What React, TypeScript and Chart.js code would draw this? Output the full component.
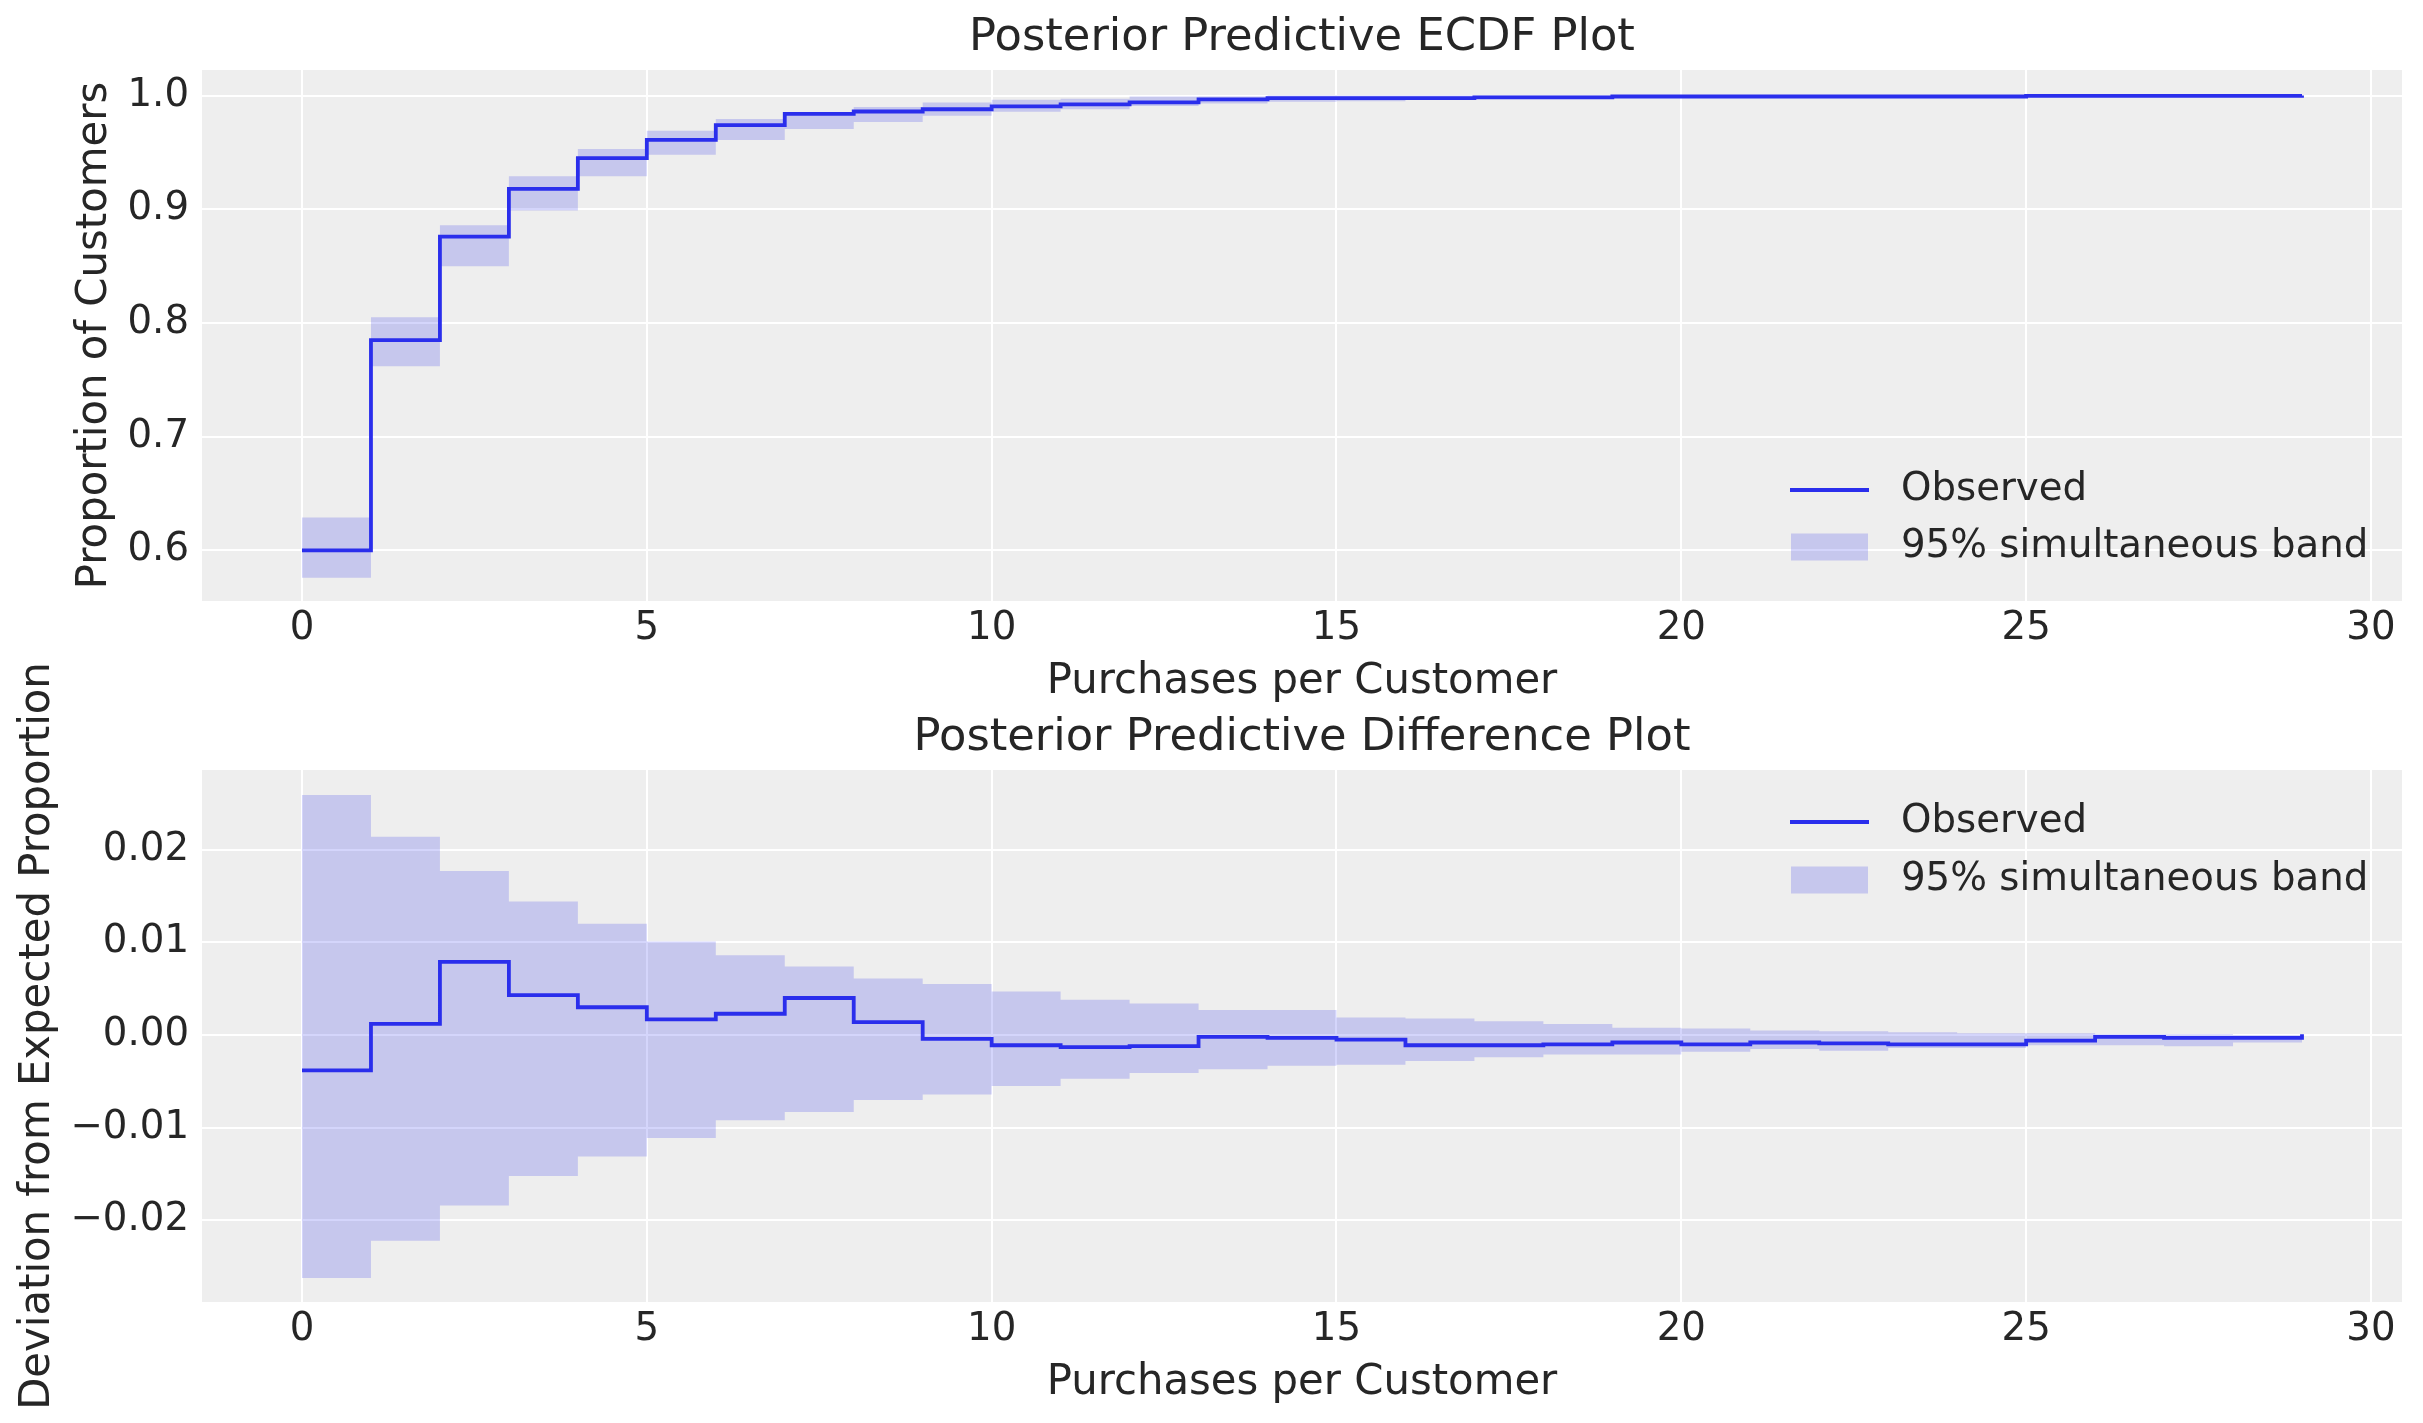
import { useEffect, useRef } from 'react';
import { Chart, registerables } from 'chart.js';

Chart.register(...registerables);

// purchases per customer (x positions of the steps)
const purchases = [0, 1, 2, 3, 4, 5, 6, 7, 8, 9, 10, 11, 12, 13, 14, 15, 16, 17, 18, 19, 20, 21, 22, 23, 24, 25, 26, 27, 28, 29];

// ECDF panel
const ecdfObserved = [0.600, 0.785, 0.876, 0.918, 0.945, 0.961, 0.974, 0.984, 0.986, 0.988, 0.9905, 0.9922, 0.994, 0.9966, 0.9978, 0.9978, 0.9978, 0.9984, 0.9984, 0.9992, 0.9992, 0.9992, 0.9992, 0.9992, 0.9992, 0.9997, 0.9997, 0.9997, 0.9997, 1.0];
const ecdfBandLow = [0.576, 0.762, 0.850, 0.899, 0.929, 0.948, 0.961, 0.9707, 0.9768, 0.9822, 0.9858, 0.988, 0.9908, 0.9931, 0.9945, 0.9951, 0.9961, 0.9971, 0.9973, 0.9979, 0.9982, 0.9985, 0.9983, 0.9986, 0.9986, 0.9989, 0.9989, 0.9988, 0.9992, 0.9992];
const ecdfBandHigh = [0.629, 0.805, 0.886, 0.929, 0.953, 0.969, 0.9795, 0.9855, 0.990, 0.994, 0.9963, 0.9972, 0.9992, 0.9995, 1.0, 1.0, 1.0, 1.0, 1.0, 1.0, 1.0, 1.0, 1.0, 1.0, 1.0, 1.0, 1.0, 1.0, 1.0, 1.0];
const ecdfTicks = ['0.6', '0.7', '0.8', '0.9', '1.0'];

// difference panel
const diffObserved = [-0.0038, 0.0012, 0.0079, 0.0043, 0.0030, 0.0017, 0.0023, 0.0040, 0.0014, -0.0004, -0.0011, -0.0013, -0.0012, -0.0002, -0.0003, -0.0005, -0.0011, -0.0011, -0.0010, -0.0008, -0.0010, -0.0008, -0.0009, -0.0010, -0.0010, -0.0006, -0.0002, -0.0003, -0.0003, 0.0001];
const diffBandLow = [-0.0262, -0.0222, -0.0184, -0.0152, -0.0131, -0.0111, -0.0092, -0.0083, -0.0070, -0.0064, -0.0055, -0.0047, -0.0041, -0.0037, -0.0033, -0.0032, -0.0028, -0.0024, -0.0021, -0.0021, -0.0018, -0.0015, -0.0017, -0.0014, -0.0014, -0.0011, -0.0011, -0.0012, -0.0008, -0.0008];
const diffBandHigh = [0.0259, 0.0214, 0.0177, 0.0144, 0.0120, 0.0101, 0.0086, 0.0074, 0.0061, 0.0055, 0.0047, 0.0038, 0.0034, 0.0027, 0.0027, 0.0019, 0.0018, 0.0015, 0.0012, 0.0008, 0.0007, 0.0005, 0.0004, 0.0003, 0.0002, 0.0002, 0.0001, 0.0001, 0.0000, 0.0000];
const diffTicks = ['\u22120.02', '\u22120.01', '0.00', '0.01', '0.02'];

const xTicks = ['0', '5', '10', '15', '20', '25', '30'];

const FONT = 'DejaVu Sans';
const TEXT = '#262626';
const LINE = '#2a2eec';
const BAND = 'rgba(42,46,236,0.2)';
const TICK_SIZE = 38.7;
const LABEL_SIZE = 41.8;
const TITLE_SIZE = 44.8;

const labelFor = (labels: string[], v: number) =>
  labels.find((l) => Math.abs(parseFloat(l.replace('\u2212', '-')) - v) < 1e-9) ?? '';

const panelBackground = {
  id: 'panelBackground',
  beforeDraw(chart: any) {
    const { ctx, chartArea } = chart;
    ctx.save();
    ctx.fillStyle = '#eeeeee';
    ctx.fillRect(chartArea.left, chartArea.top, chartArea.right - chartArea.left, chartArea.bottom - chartArea.top);
    ctx.restore();
  },
};

// axes title centred over the plot area (matplotlib style)
function panelTitle(text: string) {
  return {
    id: 'panelTitle',
    afterDraw(chart: any) {
      const { ctx, chartArea } = chart;
      ctx.save();
      ctx.fillStyle = TEXT;
      ctx.font = `${TITLE_SIZE}px "${FONT}"`;
      ctx.textAlign = 'center';
      ctx.textBaseline = 'middle';
      ctx.fillText(text, (chartArea.left + chartArea.right) / 2, chartArea.top - 32);
      ctx.restore();
    },
  };
}

// legend drawn inside the plot area, like matplotlib's frameless legend
function insideLegend(rows: (area: any) => [number, number]) {
  return {
    id: 'insideLegend',
    afterDatasetsDraw(chart: any) {
      const { ctx, chartArea } = chart;
      const [r1, r2] = rows(chartArea);
      const x0 = chartArea.right - 612;
      ctx.save();
      ctx.strokeStyle = LINE;
      ctx.lineWidth = 3.8;
      ctx.beginPath();
      ctx.moveTo(x0, r1);
      ctx.lineTo(x0 + 79, r1);
      ctx.stroke();
      ctx.fillStyle = BAND;
      ctx.fillRect(x0 + 1, r2 - 13.5, 77, 27);
      ctx.fillStyle = TEXT;
      ctx.font = `${TICK_SIZE}px "${FONT}"`;
      ctx.textBaseline = 'middle';
      ctx.textAlign = 'left';
      ctx.fillText('Observed', chartArea.right - 501, r1);
      ctx.fillText('95% simultaneous band', chartArea.right - 501, r2);
      ctx.restore();
    },
  };
}

type PanelProps = {
  top: number;
  height: number;
  plotTop: number;
  title: string;
  yTitle: string;
  observed: number[];
  bandLow: number[];
  bandHigh: number[];
  yMin: number;
  yMax: number;
  yStep: number;
  yLabels: string[];
  yTitlePad: number;
  legendRows: (area: any) => [number, number];
};

function StepPanel(p: PanelProps) {
  const canvasRef = useRef<HTMLCanvasElement>(null);
  const chartRef = useRef<Chart | null>(null);

  useEffect(() => {
    if (!canvasRef.current) return;
    if (chartRef.current) chartRef.current.destroy();
    const ctx = canvasRef.current.getContext('2d');
    if (!ctx) return;

    const pts = (ys: number[]) => purchases.map((x, i) => ({ x, y: ys[i] }));

    chartRef.current = new Chart(ctx, {
      type: 'line',
      data: {
        datasets: [
          {
            label: 'Observed',
            data: pts(p.observed),
            stepped: true,
            borderColor: LINE,
            borderWidth: 3.8,
            pointRadius: 0,
            fill: false,
          },
          {
            label: 'band low',
            data: pts(p.bandLow),
            stepped: true,
            borderColor: 'rgba(0,0,0,0)',
            borderWidth: 0,
            pointRadius: 0,
            fill: false,
          },
          {
            label: '95% simultaneous band',
            data: pts(p.bandHigh),
            stepped: true,
            borderColor: 'rgba(0,0,0,0)',
            borderWidth: 0,
            pointRadius: 0,
            backgroundColor: BAND,
            fill: 1,
          },
        ],
      },
      options: {
        animation: false,
        responsive: false,
        layout: { padding: { left: 0, right: 21, top: p.plotTop, bottom: 0 } },
        plugins: {
          legend: { display: false },
          tooltip: { enabled: false },
          title: { display: false },
        },
        scales: {
          x: {
            type: 'linear',
            min: -1.45,
            max: 30.45,
            border: { display: false },
            grid: { color: '#ffffff', lineWidth: 2, drawTicks: false },
            ticks: {
              stepSize: 5,
              includeBounds: false,
              autoSkip: false,
              maxRotation: 0,
              padding: 4.3,
              color: TEXT,
              font: { family: FONT, size: TICK_SIZE },
              callback: (v: any) => labelFor(xTicks, Number(v)),
            },
            title: {
              display: true,
              text: 'Purchases per Customer',
              color: TEXT,
              font: { family: FONT, size: LABEL_SIZE },
              padding: { top: 0, bottom: 4.9 },
            },
            afterFit: (s: any) => {
              s.height = 111;
            },
          },
          y: {
            type: 'linear',
            min: p.yMin,
            max: p.yMax,
            border: { display: false },
            grid: { color: '#ffffff', lineWidth: 2, drawTicks: false },
            ticks: {
              stepSize: p.yStep,
              includeBounds: false,
              padding: 13,
              color: TEXT,
              font: { family: FONT, size: TICK_SIZE },
              callback: (v: any) => labelFor(p.yLabels, Number(v)),
            },
            title: {
              display: true,
              text: p.yTitle,
              color: TEXT,
              font: { family: FONT, size: LABEL_SIZE },
              padding: { top: p.yTitlePad, bottom: 0 },
            },
            afterFit: (s: any) => {
              s.width = 202;
            },
          },
        },
      },
      plugins: [panelBackground, panelTitle(p.title), insideLegend(p.legendRows)],
    } as any);

    return () => {
      if (chartRef.current) {
        chartRef.current.destroy();
        chartRef.current = null;
      }
    };
  }, []);

  return (
    <canvas
      ref={canvasRef}
      width={2423}
      height={p.height}
      style={{ position: 'absolute', left: 0, top: p.top, width: 2423, height: p.height }}
    />
  );
}

export default function App() {
  return (
    <div style={{ position: 'fixed', left: 0, top: 0, width: 2423, height: 1423, background: '#ffffff' }}>
      <StepPanel
        top={0}
        height={712}
        plotTop={70}
        title="Posterior Predictive ECDF Plot"
        yTitle="Proportion of Customers"
        observed={ecdfObserved}
        bandLow={ecdfBandLow}
        bandHigh={ecdfBandHigh}
        yMin={0.5555}
        yMax={1.0225}
        yStep={0.1}
        yLabels={ecdfTicks}
        yTitlePad={70}
        legendRows={(a) => [a.bottom - 111, a.bottom - 54]}
      />
      <StepPanel
        top={640}
        height={773}
        plotTop={130}
        title="Posterior Predictive Difference Plot"
        yTitle="Deviation from Expected Proportion"
        observed={diffObserved}
        bandLow={diffBandLow}
        bandHigh={diffBandHigh}
        yMin={-0.0288}
        yMax={0.0286}
        yStep={0.01}
        yLabels={diffTicks}
        yTitlePad={13.5}
        legendRows={(a) => [a.top + 52, a.top + 110]}
      />
    </div>
  );
}
